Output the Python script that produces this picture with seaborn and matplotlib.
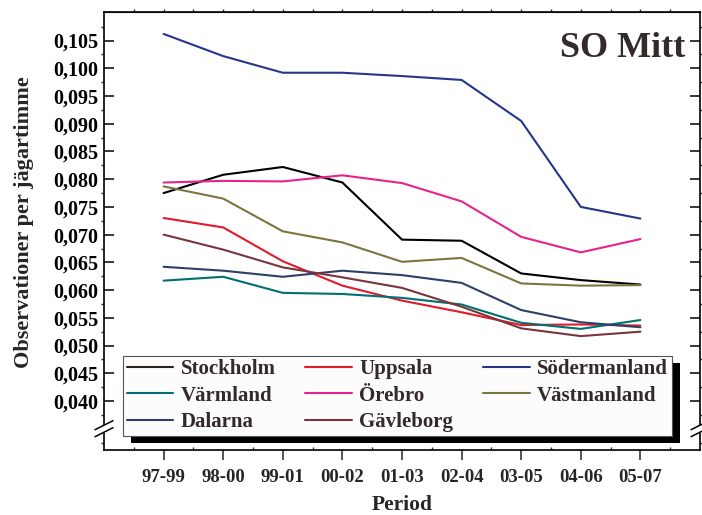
import numpy as np
import pandas as pd
import matplotlib
matplotlib.use("Agg")
import matplotlib.pyplot as plt
import seaborn as sns
from matplotlib.ticker import FixedLocator, FuncFormatter
from matplotlib.patches import Rectangle

periods = ["97-99", "98-00", "99-01", "00-02", "01-03", "02-04", "03-05", "04-06", "05-07"]

stockholm = [0.0775, 0.0808, 0.0822, 0.0794, 0.0691, 0.0689, 0.0630, 0.0618, 0.0610]
uppsala = [0.0730, 0.0713, 0.0652, 0.0608, 0.0581, 0.0560, 0.0537, 0.0538, 0.0536]
sodermanland = [0.1062, 0.1022, 0.0992, 0.0992, 0.0986, 0.0979, 0.0905, 0.0750, 0.0729]
varmland = [0.0617, 0.0624, 0.0595, 0.0593, 0.0586, 0.0574, 0.0541, 0.0530, 0.0546]
orebro = [0.0794, 0.0797, 0.0796, 0.0807, 0.0793, 0.0760, 0.0696, 0.0668, 0.0692]
vastmanland = [0.0787, 0.0765, 0.0706, 0.0686, 0.0651, 0.0658, 0.0612, 0.0608, 0.0609]
dalarna = [0.0642, 0.0635, 0.0624, 0.0635, 0.0627, 0.0613, 0.0564, 0.0542, 0.0533]
gavleborg = [0.0700, 0.0673, 0.0641, 0.0623, 0.0604, 0.0570, 0.0531, 0.0517, 0.0525]

series_names = ["Stockholm", "Uppsala", "Södermanland", "Värmland", "Örebro",
                "Västmanland", "Dalarna", "Gävleborg"]
series_values = [stockholm, uppsala, sodermanland, varmland, orebro,
                 vastmanland, dalarna, gavleborg]
colors = ["#000000", "#e31a2c", "#27348b", "#00706f", "#e8228a",
          "#7d7440", "#2c4068", "#7b343c"]

rows = []
for name, vals in zip(series_names, series_values):
    for i, (p, v) in enumerate(zip(periods, vals)):
        rows.append({"Region": name, "idx": i, "Period": p, "value": v})
df = pd.DataFrame(rows)

sns.set_style("white")
plt.rcParams["font.family"] = ["Liberation Serif", "DejaVu Serif"]
plt.rcParams["font.weight"] = "bold"

fig = plt.figure(figsize=(7.02, 5.15), dpi=100)
ax = fig.add_axes([104 / 702, 1 - 450 / 515, 596 / 702, 437.7 / 515])

sns.lineplot(data=df, x="idx", y="value", hue="Region", hue_order=series_names,
             palette=colors, linewidth=1.5, ax=ax, legend=False)

ymin, ymax = 0.03116, 0.1101
ax.set_xlim(-1, 9)
ax.set_ylim(ymin, ymax)

# ticks
ax.xaxis.set_major_locator(FixedLocator(range(len(periods))))
ax.xaxis.set_major_formatter(FuncFormatter(
    lambda v, p: periods[int(round(v))] if 0 <= round(v) < len(periods) else ""))
ax.xaxis.set_minor_locator(FixedLocator(np.arange(-0.5, 9.0, 1.0)))
ax.yaxis.set_major_locator(FixedLocator(np.round(np.arange(0.040, 0.1051, 0.005), 3)))
ax.yaxis.set_major_formatter(FuncFormatter(lambda v, p: f"{v:.3f}".replace(".", ",")))
ax.yaxis.set_minor_locator(FixedLocator(np.arange(0.0325, 0.110, 0.005)))

ax.tick_params(axis="y", which="major", direction="in", length=7, width=1.1,
               left=True, right=True, labelsize=14.5, pad=4, colors="black")
ax.tick_params(axis="y", which="minor", direction="out", length=2.5, width=1.0,
               left=True, right=True)
ax.tick_params(axis="x", which="major", direction="out", length=7, width=1.1,
               bottom=True, top=False, labelsize=13.5, pad=6.5)
ax.tick_params(axis="x", which="minor", direction="in", length=2.5, width=1.0,
               bottom=True, top=False)
for lab in ax.get_xticklabels() + ax.get_yticklabels():
    lab.set_fontweight("bold")

# small outward ticks on the top spine
top = ax.secondary_xaxis("top")
top.set_xticks(np.arange(-0.5, 9.0, 0.5))
top.tick_params(direction="out", length=2.5, width=1.0, labeltop=False)

for s in ax.spines.values():
    s.set_linewidth(1.2)
    s.set_color("black")

ax.set_xlabel("Period", fontsize=15.5, fontweight="bold", labelpad=6.5)
ax.set_ylabel("Observationer per jägartimme", fontsize=16, fontweight="bold")
ax.yaxis.set_label_coords(-0.117, 0.521)

ax.text(0.975, 0.955, "SO Mitt", transform=ax.transAxes, ha="right", va="top",
        fontsize=26, fontweight="bold", color="#332b2a")

# axis breaks
bfrac = (0.035 - ymin) / (ymax - ymin)
px_x = 1 / 596
px_y = 1 / 437.7
for xs in (0.0, 1.0):
    ax.add_patch(Rectangle((xs - 3 * px_x, bfrac - 4 * px_y), 6 * px_x, 8 * px_y,
                           transform=ax.transAxes, facecolor="white", edgecolor="none",
                           clip_on=False, zorder=10))
    for off in (-3.5, 3.5):
        ax.plot([xs - 9 * px_x, xs + 9 * px_x],
                [bfrac + (off - 4.5) * px_y, bfrac + (off + 4.5) * px_y],
                transform=ax.transAxes, color="black", lw=1.1, clip_on=False, zorder=11)

# legend (row-wise order as in the reference)
legend_order = ["Stockholm", "Värmland", "Dalarna", "Uppsala", "Örebro", "Gävleborg",
                "Södermanland", "Västmanland"]
color_map = dict(zip(series_names, colors))
handles = [plt.Line2D([], [], color=("#2b2220" if color_map[n] == "#000000" else color_map[n]),
                      lw=1.5) for n in legend_order]
leg = ax.legend(handles, legend_order, ncol=3, loc="lower left",
                bbox_to_anchor=((123 - 104) / 596, (450 - 436) / 437.7),
                borderaxespad=0, frameon=True, fancybox=False,
                prop={"family": "Liberation Serif", "weight": "bold", "size": 15},
                handlelength=2.25, handletextpad=0.35, columnspacing=1.42,
                labelspacing=0.32, borderpad=0.17)
leg.get_frame().set_edgecolor("#555555")
leg.get_frame().set_linewidth(0.8)
leg.get_frame().set_facecolor("#fcfcfc")
leg.get_frame().set_alpha(1)
for t in leg.get_texts():
    t.set_color("#33292a")
leg.set_zorder(6)

fig.canvas.draw()
bb = leg.get_window_extent().transformed(ax.transAxes.inverted())
ax.add_patch(Rectangle((bb.x0 + 8 * px_x, bb.y0 - 7 * px_y), bb.width, bb.height,
                       transform=ax.transAxes, facecolor="black", edgecolor="none",
                       zorder=5.5, clip_on=False))

fig.savefig("out.png", dpi=100)
